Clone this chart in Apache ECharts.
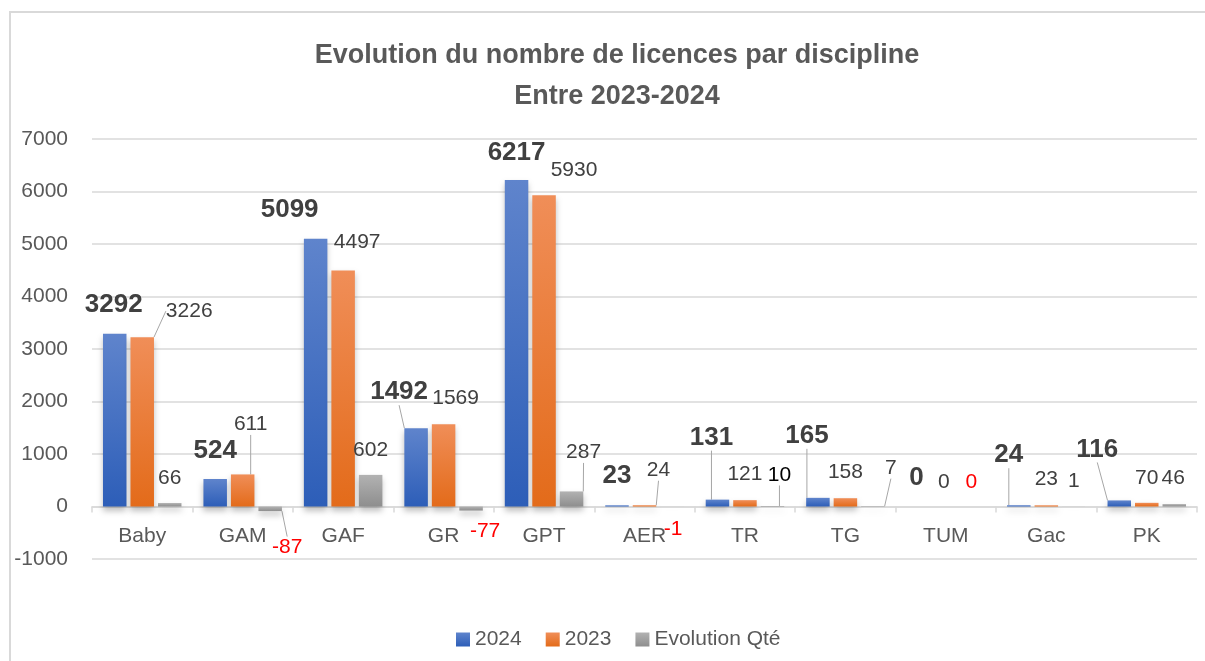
<!DOCTYPE html>
<html lang="fr">
<head>
    <meta charset="UTF-8">
    <title>Evolution du nombre de licences par discipline</title>
    <script src="https://cdn.jsdelivr.net/npm/echarts@6/dist/echarts.min.js"></script>
    <style>
        html, body { margin: 0; padding: 0; background: #fff; overflow: hidden; }
        #cadre { position: absolute; left: 9px; top: 11px; width: 1210px; height: 670px; border: 2px solid #d9d9d9; box-sizing: border-box; }
        #chart { position: absolute; left: 0; top: 0; width: 1205px; height: 661px; }
    </style>
</head>
<body>
<div id="cadre"></div>
<div id="chart"></div>
<script>
    // donnees
    var disciplines = ['Baby', 'GAM', 'GAF', 'GR', 'GPT', 'AER', 'TR', 'TG', 'TUM', 'Gac', 'PK'];
    var licences2024 = [3292, 524, 5099, 1492, 6217, 23, 131, 165, 0, 24, 116];
    var licences2023 = [3226, 611, 4497, 1569, 5930, 24, 121, 158, 0, 23, 70];
    var evolution = [66, -87, 602, -77, 287, -1, 10, 7, 0, 1, 46];
    var yMin = -1000, yMax = 7000, yStep = 1000;

    // placement des etiquettes : centre du texte par rapport au bout de la barre
    var offsets2024 = [[-1, -29], [0, -28], [-26, -29], [-17, -36], [0, -27], [0, -29], [-6, -62], [-11, -62], [-2, -29], [-10, -50], [-22, -51]];
    var lines2024 = [false, false, false, true, false, false, true, true, false, true, true];
    var offsets2023 = [[47, -26], [8, -50], [14, -28], [12, -26], [30, -25], [14, -35], [0, -26], [0, -26], [-2, -24], [0, -26], [0, -25]];
    var lines2023 = [true, true, false, false, false, true, false, false, false, false, false];
    var offsetsEvol = [[0, -25], [17, 36], [0, -25], [14, 21], [12, -39], [1, 23], [7, -31], [18, -38], [-2, -24], [0, -25], [-1, -26]];
    var linesEvol = [false, true, false, false, true, false, true, true, false, false, false];

    var font = 'Liberation Sans';
    var lineColor = '#a6a6a6';

    function gradient(top, bottom) {
        return new echarts.graphic.LinearGradient(0, 0, 0, 1, [
            {offset: 0, color: top},
            {offset: 1, color: bottom}
        ]);
    }

    function buildData(values, lines, colorFn) {
        return values.map(function (v, i) {
            var item = {
                value: v,
                label: {position: v < 0 ? 'bottom' : 'top'},
                labelLine: {show: lines[i]}
            };
            if (colorFn) item.label.color = colorFn(v, i);
            return item;
        });
    }

    function moveLabel(values, offsets) {
        return function (params) {
            var i = params.dataIndex;
            var r = params.rect, lr = params.labelRect;
            var y1 = Math.min(r.y, r.y + r.height), y2 = Math.max(r.y, r.y + r.height);
            var anchorY = values[i] < 0 ? y2 : y1;
            var cx = r.x + r.width / 2 + offsets[i][0];
            var cy = anchorY + offsets[i][1];
            return {
                dx: cx - (lr.x + lr.width / 2),
                dy: cy - (lr.y + lr.height / 2)
            };
        };
    }

    var chart = echarts.init(document.getElementById('chart'));

    var option = {
        animation: false,
        textStyle: {fontFamily: font},
        title: {
            text: 'Evolution du nombre de licences par discipline\nEntre 2023-2024',
            left: 612,
            textAlign: 'center',
            top: 30,
            textStyle: {fontFamily: font, fontSize: 27, fontWeight: 'bold', color: '#595959', lineHeight: 41}
        },
        legend: {
            left: 451,
            top: 624,
            itemWidth: 14,
            itemHeight: 14,
            itemGap: 24,
            icon: 'rect',
            textStyle: {fontFamily: font, fontSize: 21, color: '#595959'},
            data: ['2024', '2023', 'Evolution Qté']
        },
        grid: {left: 92, right: 8, top: 139, bottom: 102},
        xAxis: {
            type: 'category',
            data: disciplines,
            axisLine: {onZero: true, lineStyle: {color: '#d9d9d9', width: 1.5}},
            axisTick: {show: true, length: 6, interval: 0, lineStyle: {color: '#d9d9d9', width: 1.5}},
            // les libelles restent sous la ligne du zero
            axisLabel: {fontFamily: font, fontSize: 21, color: '#595959', margin: -33, interval: 0}
        },
        yAxis: {
            type: 'value',
            min: yMin,
            max: yMax,
            interval: yStep,
            axisLine: {show: false},
            axisTick: {show: false},
            axisLabel: {
                fontFamily: font, fontSize: 21, color: '#595959', margin: 24,
                formatter: function (v) { return String(v); }
            },
            splitLine: {lineStyle: {color: '#d9d9d9', width: 1.5}}
        },
        series: [
            {
                name: '2024',
                type: 'bar',
                barWidth: 23.5,
                barGap: '17%',
                data: buildData(licences2024, lines2024),
                itemStyle: {
                    color: gradient('#5f84cc', '#2d5eb8'),
                    shadowBlur: 6, shadowOffsetY: 4, shadowColor: 'rgba(0,0,0,0.25)'
                },
                label: {show: true, fontFamily: font, fontSize: 26, fontWeight: 'bold', color: '#404040', distance: 5},
                labelLine: {lineStyle: {color: lineColor, width: 1}},
                labelLayout: moveLabel(licences2024, offsets2024)
            },
            {
                name: '2023',
                type: 'bar',
                barWidth: 23.5,
                barGap: '17%',
                data: buildData(licences2023, lines2023),
                itemStyle: {
                    color: gradient('#f08e58', '#e36b1a'),
                    shadowBlur: 6, shadowOffsetY: 4, shadowColor: 'rgba(0,0,0,0.25)'
                },
                label: {show: true, fontFamily: font, fontSize: 21, color: '#404040', distance: 5},
                labelLine: {lineStyle: {color: lineColor, width: 1}},
                labelLayout: moveLabel(licences2023, offsets2023)
            },
            {
                name: 'Evolution Qté',
                type: 'bar',
                barWidth: 23.5,
                barGap: '17%',
                data: buildData(evolution, linesEvol, function (v, i) {
                    if (v <= 0) return '#ff0000';
                    if (i === 6) return '#000000';
                    return '#404040';
                }),
                itemStyle: {
                    color: gradient('#b2b2b2', '#8e8e8e'),
                    shadowBlur: 6, shadowOffsetY: 4, shadowColor: 'rgba(0,0,0,0.25)'
                },
                label: {show: true, fontFamily: font, fontSize: 21, color: '#404040', distance: 5},
                labelLine: {lineStyle: {color: lineColor, width: 1}},
                labelLayout: moveLabel(evolution, offsetsEvol)
            }
        ]
    };

    chart.setOption(option);
</script>
</body>
</html>
